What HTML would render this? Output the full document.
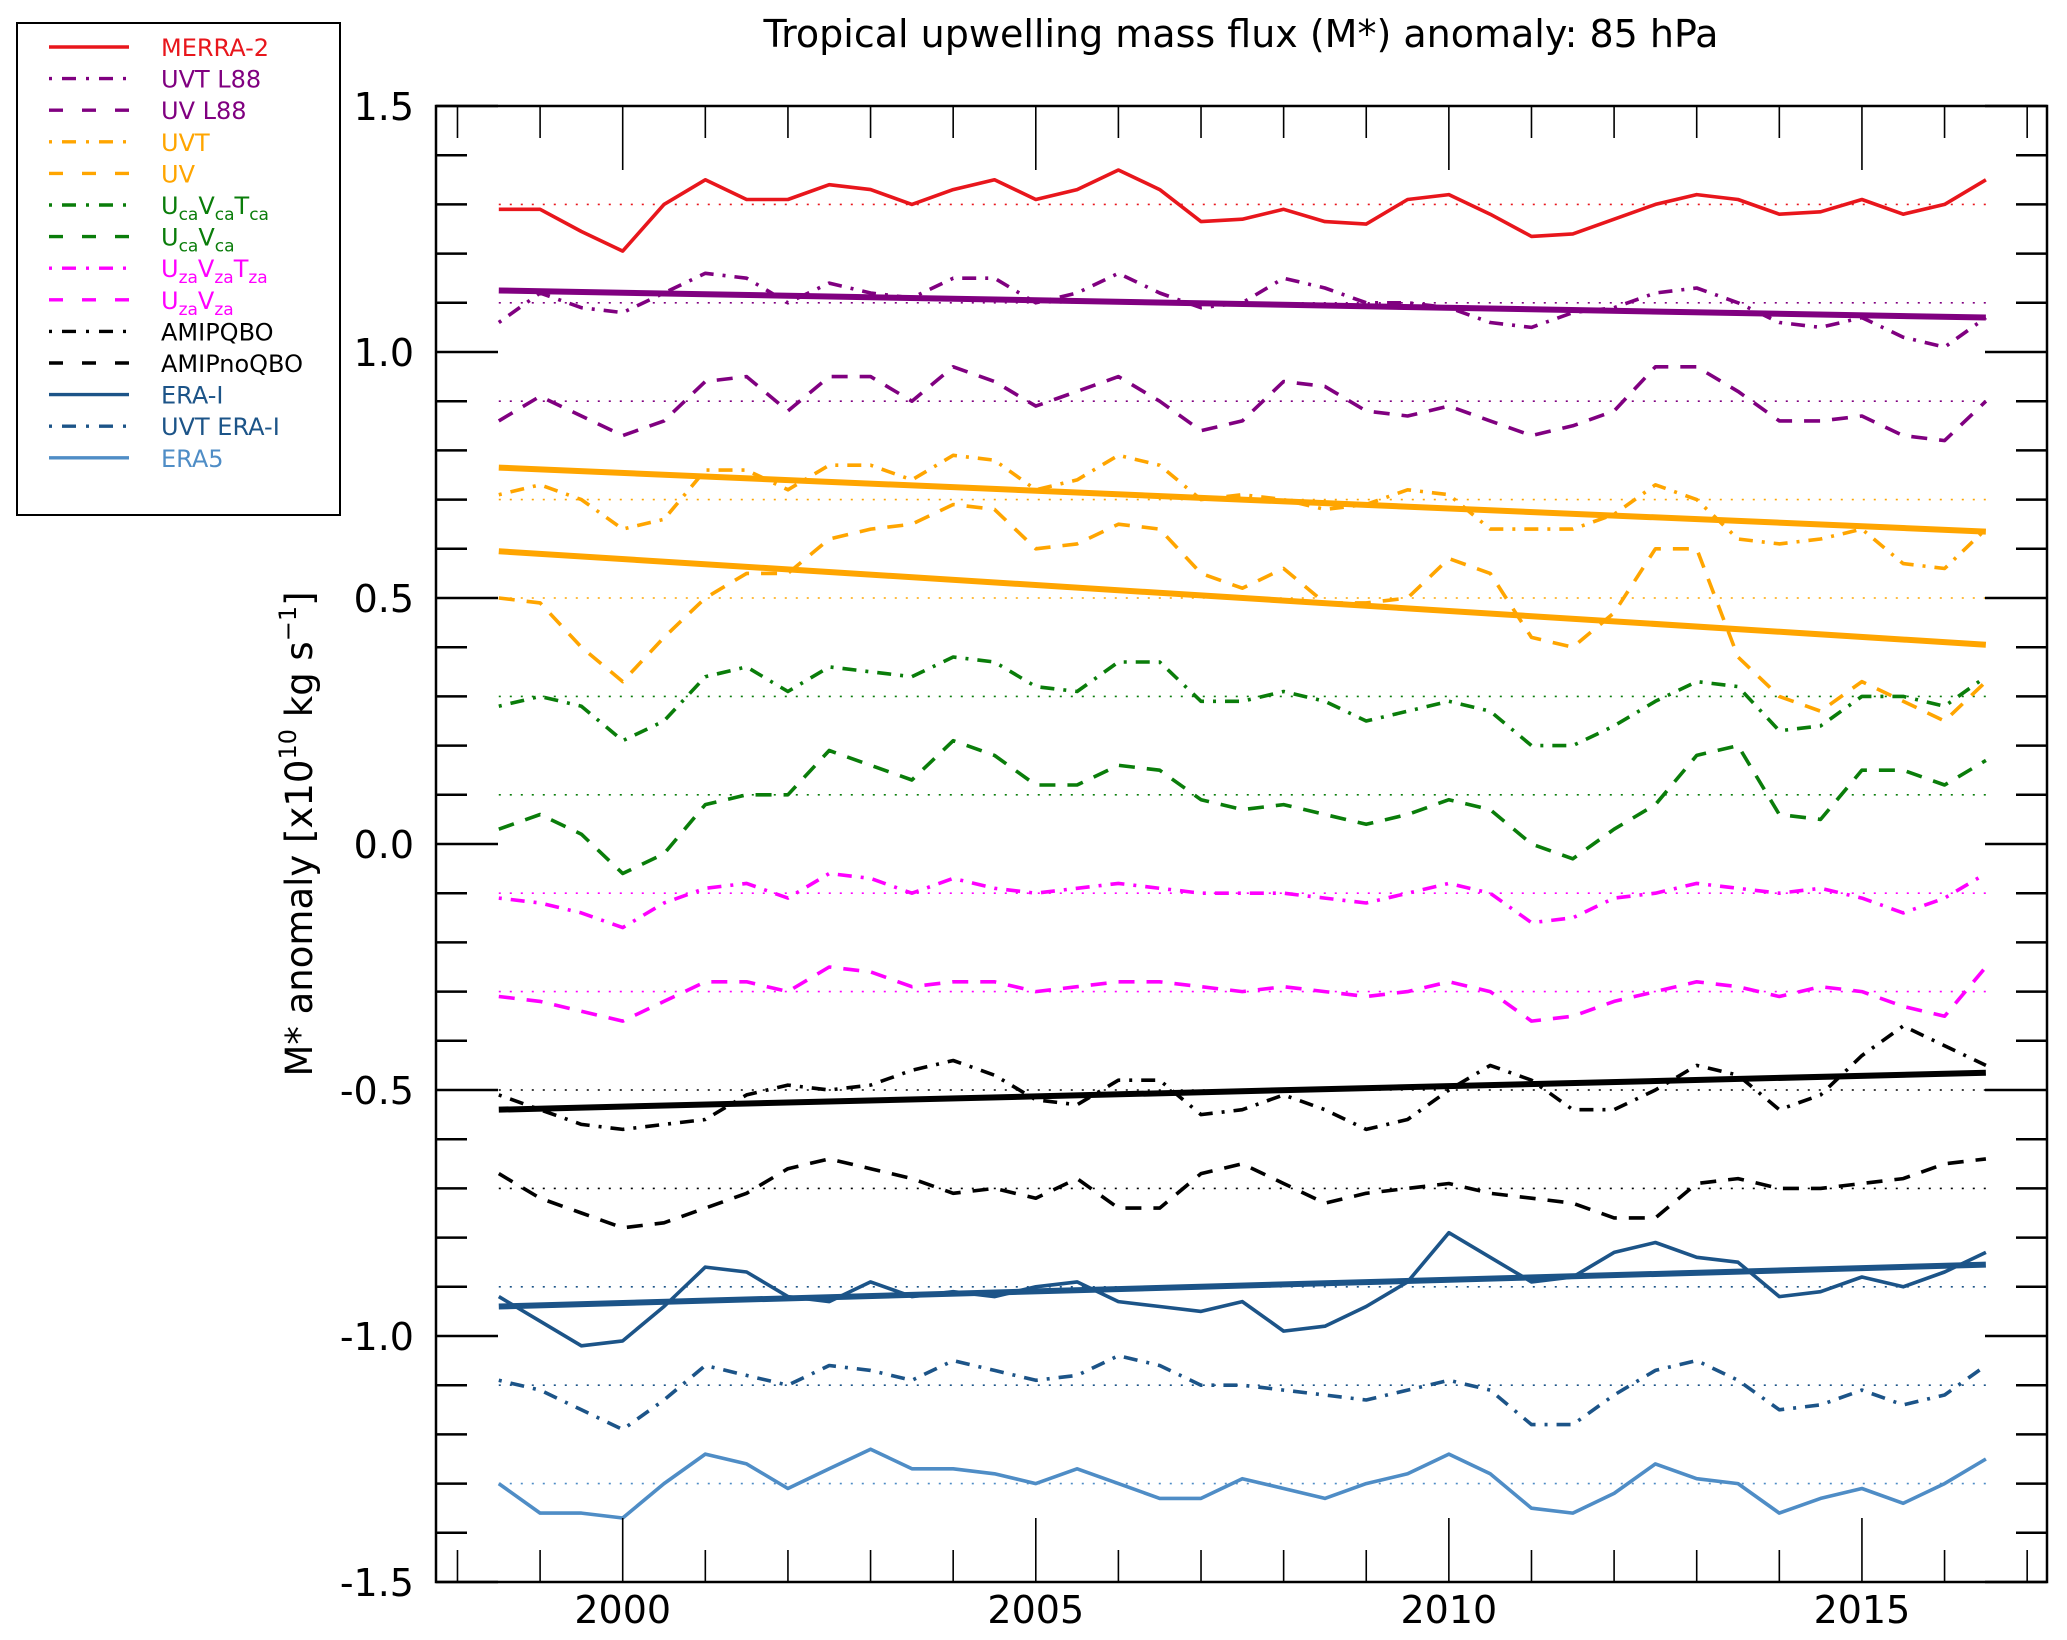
<!DOCTYPE html>
<html><head><meta charset="utf-8"><style>
html,body{margin:0;padding:0;background:#fff;}
svg{display:block;font-family:"DejaVu Sans","Liberation Sans",sans-serif;}
</style></head><body>
<svg id="chart" width="2067" height="1640" viewBox="0 0 2067 1640" xmlns="http://www.w3.org/2000/svg">
<rect x="0" y="0" width="2067" height="1640" fill="#fff"/>
<text x="1241" y="47" font-size="38" text-anchor="middle">Tropical upwelling mass flux (M*) anomaly: 85 hPa</text>
<text transform="translate(312,834) rotate(-90)" font-size="37" text-anchor="middle">M* anomaly [x10<tspan dy="-16" font-size="24">10</tspan><tspan dy="16"> kg s</tspan><tspan dy="-16" font-size="24">−1</tspan><tspan dy="16">]</tspan></text>
<g id="plot"></g>
<g id="legend"></g>
</svg>
<script>
const years = [1998.5,1999,1999.5,2000,2000.5,2001,2001.5,2002,2002.5,2003,2003.5,2004,2004.5,2005,2005.5,2006,2006.5,2007,2007.5,2008,2008.5,2009,2009.5,2010,2010.5,2011,2011.5,2012,2012.5,2013,2013.5,2014,2014.5,2015,2015.5,2016,2016.5];
const merra2 = [1.29,1.29,1.245,1.205,1.30,1.35,1.31,1.31,1.34,1.33,1.30,1.33,1.35,1.31,1.33,1.37,1.33,1.265,1.27,1.29,1.265,1.26,1.31,1.32,1.28,1.235,1.24,1.27,1.30,1.32,1.31,1.28,1.285,1.31,1.28,1.30,1.35];
const uvtL88 = [1.06,1.12,1.09,1.08,1.12,1.16,1.15,1.10,1.14,1.12,1.11,1.15,1.15,1.10,1.12,1.16,1.12,1.09,1.10,1.15,1.13,1.10,1.10,1.09,1.06,1.05,1.08,1.09,1.12,1.13,1.10,1.06,1.05,1.07,1.03,1.01,1.07];
const uvL88 = [0.86,0.91,0.87,0.83,0.86,0.94,0.95,0.88,0.95,0.95,0.90,0.97,0.94,0.89,0.92,0.95,0.90,0.84,0.86,0.94,0.93,0.88,0.87,0.89,0.86,0.83,0.85,0.88,0.97,0.97,0.92,0.86,0.86,0.87,0.83,0.82,0.90];
const uvt = [0.71,0.73,0.70,0.64,0.66,0.76,0.76,0.72,0.77,0.77,0.74,0.79,0.78,0.72,0.74,0.79,0.77,0.70,0.71,0.70,0.68,0.69,0.72,0.71,0.64,0.64,0.64,0.67,0.73,0.70,0.62,0.61,0.62,0.64,0.57,0.56,0.64];
const uv = [0.50,0.49,0.40,0.33,0.42,0.50,0.55,0.55,0.62,0.64,0.65,0.69,0.68,0.60,0.61,0.65,0.64,0.55,0.52,0.56,0.49,0.49,0.50,0.58,0.55,0.42,0.40,0.47,0.60,0.60,0.38,0.30,0.27,0.33,0.29,0.25,0.33];
const ucaVcaTca = [0.28,0.30,0.28,0.21,0.25,0.34,0.36,0.31,0.36,0.35,0.34,0.38,0.37,0.32,0.31,0.37,0.37,0.29,0.29,0.31,0.29,0.25,0.27,0.29,0.27,0.20,0.20,0.24,0.29,0.33,0.32,0.23,0.24,0.30,0.30,0.28,0.34];
const ucaVca = [0.03,0.06,0.02,-0.06,-0.02,0.08,0.10,0.10,0.19,0.16,0.13,0.21,0.18,0.12,0.12,0.16,0.15,0.09,0.07,0.08,0.06,0.04,0.06,0.09,0.07,0.00,-0.03,0.03,0.08,0.18,0.20,0.06,0.05,0.15,0.15,0.12,0.17];
const uzaVzaTza = [-0.11,-0.12,-0.14,-0.17,-0.12,-0.09,-0.08,-0.11,-0.06,-0.07,-0.10,-0.07,-0.09,-0.10,-0.09,-0.08,-0.09,-0.10,-0.10,-0.10,-0.11,-0.12,-0.10,-0.08,-0.10,-0.16,-0.15,-0.11,-0.10,-0.08,-0.09,-0.10,-0.09,-0.11,-0.14,-0.11,-0.06];
const uzaVza = [-0.31,-0.32,-0.34,-0.36,-0.32,-0.28,-0.28,-0.30,-0.25,-0.26,-0.29,-0.28,-0.28,-0.30,-0.29,-0.28,-0.28,-0.29,-0.30,-0.29,-0.30,-0.31,-0.30,-0.28,-0.30,-0.36,-0.35,-0.32,-0.30,-0.28,-0.29,-0.31,-0.29,-0.30,-0.33,-0.35,-0.25];
const amipQbo = [-0.51,-0.54,-0.57,-0.58,-0.57,-0.56,-0.51,-0.49,-0.50,-0.49,-0.46,-0.44,-0.47,-0.52,-0.53,-0.48,-0.48,-0.55,-0.54,-0.51,-0.54,-0.58,-0.56,-0.50,-0.45,-0.48,-0.54,-0.54,-0.50,-0.45,-0.47,-0.54,-0.51,-0.43,-0.37,-0.41,-0.45];
const amipNoQbo = [-0.67,-0.72,-0.75,-0.78,-0.77,-0.74,-0.71,-0.66,-0.64,-0.66,-0.68,-0.71,-0.70,-0.72,-0.68,-0.74,-0.74,-0.67,-0.65,-0.69,-0.73,-0.71,-0.70,-0.69,-0.71,-0.72,-0.73,-0.76,-0.76,-0.69,-0.68,-0.70,-0.70,-0.69,-0.68,-0.65,-0.64];
const eraI = [-0.92,-0.97,-1.02,-1.01,-0.94,-0.86,-0.87,-0.92,-0.93,-0.89,-0.92,-0.91,-0.92,-0.90,-0.89,-0.93,-0.94,-0.95,-0.93,-0.99,-0.98,-0.94,-0.89,-0.79,-0.84,-0.89,-0.88,-0.83,-0.81,-0.84,-0.85,-0.92,-0.91,-0.88,-0.90,-0.87,-0.83];
const uvtEraI = [-1.09,-1.11,-1.15,-1.19,-1.13,-1.06,-1.08,-1.10,-1.06,-1.07,-1.09,-1.05,-1.07,-1.09,-1.08,-1.04,-1.06,-1.10,-1.10,-1.11,-1.12,-1.13,-1.11,-1.09,-1.11,-1.18,-1.18,-1.12,-1.07,-1.05,-1.09,-1.15,-1.14,-1.11,-1.14,-1.12,-1.06];
const era5 = [-1.30,-1.36,-1.36,-1.37,-1.30,-1.24,-1.26,-1.31,-1.27,-1.23,-1.27,-1.27,-1.28,-1.30,-1.27,-1.30,-1.33,-1.33,-1.29,-1.31,-1.33,-1.30,-1.28,-1.24,-1.28,-1.35,-1.36,-1.32,-1.26,-1.29,-1.30,-1.36,-1.33,-1.31,-1.34,-1.30,-1.25];
const baselines = [1.3,1.1,0.9,0.7,0.5,0.3,0.1,-0.1,-0.3,-0.5,-0.7,-0.9,-1.1,-1.3];
const trendYears = [1998.5,2016.5];
const trendUvtL88 = [1.125,1.07];
const trendUvt = [0.765,0.635];
const trendUv = [0.595,0.405];
const trendAmipQbo = [-0.54,-0.465];
const trendEraI = [-0.94,-0.855];
const yTickLabels = ["1.5","1.0","0.5","0.0","-0.5","-1.0","-1.5"];
const xTickLabels = ["2000","2005","2010","2015"];

const X0=436,X1=2047,Y0=106,Y1=1582;
const XMIN=1997.74,XMAX=2017.24,YMIN=-1.5,YMAX=1.5;
const xs=v=>X0+(v-XMIN)/(XMAX-XMIN)*(X1-X0);
const ys=v=>Y1-(v-YMIN)/(YMAX-YMIN)*(Y1-Y0);
const NS="http://www.w3.org/2000/svg";
const plot=document.getElementById('plot');
const legend=document.getElementById('legend');
function mk(tag,attrs,parent){const e=document.createElementNS(NS,tag);for(const k in attrs)e.setAttribute(k,attrs[k]);parent.appendChild(e);return e;}

const DASHDOT="3 9 14 9", DASHED="16 12";
const C={red:"#e8161c",purple:"#800080",orange:"#ffa500",green:"#0a7d0a",mag:"#ff00ff",blk:"#000",eraI:"#1c5488",era5:"#4f8dc6"};
const series=[
 {name:"merra2-line",label:"MERRA-2",d:merra2,c:C.red,dash:""},
 {name:"uvt-l88-line",label:"UVT L88",d:uvtL88,c:C.purple,dash:DASHDOT},
 {name:"uv-l88-line",label:"UV L88",d:uvL88,c:C.purple,dash:DASHED},
 {name:"uvt-line",label:"UVT",d:uvt,c:C.orange,dash:DASHDOT},
 {name:"uv-line",label:"UV",d:uv,c:C.orange,dash:DASHED},
 {name:"uca-vca-tca-line",label:["U","ca","V","ca","T","ca"],d:ucaVcaTca,c:C.green,dash:DASHDOT},
 {name:"uca-vca-line",label:["U","ca","V","ca"],d:ucaVca,c:C.green,dash:DASHED},
 {name:"uza-vza-tza-line",label:["U","za","V","za","T","za"],d:uzaVzaTza,c:C.mag,dash:DASHDOT},
 {name:"uza-vza-line",label:["U","za","V","za"],d:uzaVza,c:C.mag,dash:DASHED},
 {name:"amipqbo-line",label:"AMIPQBO",d:amipQbo,c:C.blk,dash:DASHDOT},
 {name:"amipnoqbo-line",label:"AMIPnoQBO",d:amipNoQbo,c:C.blk,dash:DASHED},
 {name:"era-i-line",label:"ERA-I",d:eraI,c:C.eraI,dash:""},
 {name:"uvt-era-i-line",label:"UVT ERA-I",d:uvtEraI,c:C.eraI,dash:DASHDOT},
 {name:"era5-line",label:"ERA5",d:era5,c:C.era5,dash:""}
];
const baseColors=[C.red,C.purple,C.purple,C.orange,C.orange,C.green,C.green,C.mag,C.mag,C.blk,C.blk,C.eraI,C.eraI,C.era5];

baselines.forEach((b,i)=>{
 const l=mk('line',{x1:xs(1998.5),x2:xs(2016.5),y1:ys(b),y2:ys(b),stroke:baseColors[i],'stroke-width':1.6,'stroke-dasharray':'2 9'},plot);
 
 
});
series.forEach(s=>{
 const p=mk('polyline',{points:s.d.map((v,i)=>xs(years[i]).toFixed(1)+','+ys(v).toFixed(1)).join(' '),fill:'none',stroke:s.c,'stroke-width':3.6,'stroke-linejoin':'round'},plot);
 if(s.dash)p.setAttribute('stroke-dasharray',s.dash);
 
 
});
[[trendUvtL88,C.purple,'trend-uvt-l88'],[trendUvt,C.orange,'trend-uvt'],[trendUv,C.orange,'trend-uv'],[trendAmipQbo,C.blk,'trend-amipqbo'],[trendEraI,C.eraI,'trend-era-i']].forEach(t=>{
 const l=mk('line',{x1:xs(trendYears[0]),x2:xs(trendYears[1]),y1:ys(t[0][0]),y2:ys(t[0][1]),stroke:t[1],'stroke-width':6},plot);
 
 
});
const fr=mk('rect',{x:X0,y:Y0,width:X1-X0,height:Y1-Y0,fill:'none',stroke:'#000','stroke-width':2.5},plot);


for(let k=-15;k<=15;k++){
 const v=k/10,y=ys(v),maj=(k%5===0),L=maj?62:31;
 mk('line',{x1:X0,x2:X0+L,y1:y,y2:y,stroke:'#000','stroke-width':2.5},plot);
 mk('line',{x1:X1,x2:X1-L,y1:y,y2:y,stroke:'#000','stroke-width':2.5},plot);
}
yTickLabels.forEach((t,i)=>{
 const v=parseFloat(t);
 const tx=mk('text',{x:414,y:ys(v)+14,'font-size':38,'text-anchor':'end'},plot);
 tx.textContent=t;
 
 
});
for(let yr=1998;yr<=2017;yr++){
 const x=xs(yr),maj=(yr%5===0),L=maj?64:32;
 mk('line',{x1:x,x2:x,y1:Y1,y2:Y1-L,stroke:'#000','stroke-width':1.6},plot);
 mk('line',{x1:x,x2:x,y1:Y0,y2:Y0+L,stroke:'#000','stroke-width':1.6},plot);
}
xTickLabels.forEach(t=>{
 const tx=mk('text',{x:xs(parseFloat(t)),y:1623,'font-size':38,'text-anchor':'middle'},plot);
 tx.textContent=t;
 
 
});
const lb=mk('rect',{x:17,y:23,width:323,height:492,fill:'#fff',stroke:'#000','stroke-width':2},legend);


series.forEach((s,row)=>{
 const y=47+row*31.6;
 const g=mk('g',{},legend);
 
 
 const l=mk('line',{x1:49,x2:129,y1:y,y2:y,stroke:s.c,'stroke-width':3.4},g);
 if(s.dash)l.setAttribute('stroke-dasharray',s.dash==DASHED?'14 19':'3 10 14 10');
 const tx=mk('text',{x:161,y:y+9,'font-size':24,fill:s.c},g);
 if(typeof s.label==='string'){tx.textContent=s.label;}
 else{
  s.label.forEach((p,j)=>{const ts=mk('tspan',j%2?{'font-size':17,dy:6}:{dy:j?-6:0},tx);ts.textContent=p;});
 }
});
</script>
</body></html>
